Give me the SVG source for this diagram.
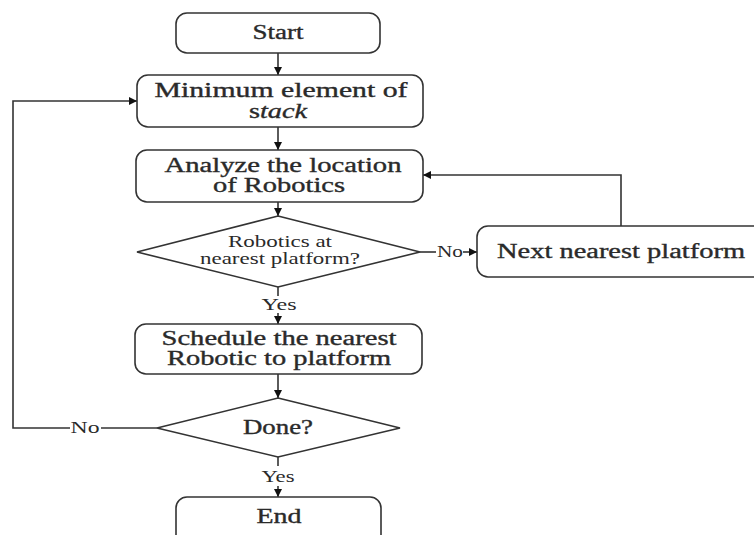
<svg xmlns="http://www.w3.org/2000/svg" width="754" height="535" viewBox="0 0 754 535">
<style>
.box{fill:#fff;stroke:#333;stroke-width:1.6}
.ln{fill:none;stroke:#333;stroke-width:1.6}
.t{font-family:"Liberation Serif","Times New Roman",serif;font-size:20px;fill:#2a2a2a;text-anchor:middle;stroke:#2a2a2a;stroke-width:0.35}
.s{font-family:"Liberation Serif","Times New Roman",serif;font-size:16px;fill:#2a2a2a;text-anchor:middle}
</style>
<defs>
<marker id="ah" viewBox="0 0 10 10" refX="10" refY="5" markerWidth="8" markerHeight="8" markerUnits="userSpaceOnUse" orient="auto">
<path d="M0,0 L10,5 L0,10 Z" fill="#111"/>
</marker>
</defs>
<rect width="754" height="535" fill="#fff"/>
<g id="connectors">
<path class="ln" d="M278,53 V75" marker-end="url(#ah)"/>
<path class="ln" d="M278,127 V150" marker-end="url(#ah)"/>
<path class="ln" d="M278,202 V216" marker-end="url(#ah)"/>
<path class="ln" d="M420,252 H436"/>
<path class="ln" d="M463,252 H477" marker-end="url(#ah)"/>
<path class="ln" d="M621,226 V175 H423" marker-end="url(#ah)"/>
<path class="ln" d="M278,287 V296"/>
<path class="ln" d="M278,313 V324" marker-end="url(#ah)"/>
<path class="ln" d="M278,374 V398" marker-end="url(#ah)"/>
<path class="ln" d="M157,428 H101"/>
<path class="ln" d="M70,428 H13 V101 H137" marker-end="url(#ah)"/>
<path class="ln" d="M278,457 V466"/>
<path class="ln" d="M278,486 V497" marker-end="url(#ah)"/>
<text class="s" x="450" y="257" textLength="26" lengthAdjust="spacingAndGlyphs">No</text>
<text class="s" x="279" y="310" textLength="35" lengthAdjust="spacingAndGlyphs">Yes</text>
<text class="s" x="85" y="433" textLength="29" lengthAdjust="spacingAndGlyphs">No</text>
<text class="s" x="278" y="482" textLength="33" lengthAdjust="spacingAndGlyphs">Yes</text>
</g>
<g id="start">
<rect class="box" x="176" y="13" width="204" height="40" rx="11"/>
<text class="t" x="278" y="39" textLength="51" lengthAdjust="spacingAndGlyphs">Start</text>
</g>
<g id="min">
<rect class="box" x="137" y="75" width="286" height="52" rx="11"/>
<text class="t" x="281" y="97" textLength="253" lengthAdjust="spacingAndGlyphs">Minimum element of</text>
<text class="t" x="278" y="118" textLength="58" lengthAdjust="spacingAndGlyphs">s<tspan font-style="italic">tack</tspan></text>
</g>
<g id="analyze">
<rect class="box" x="136" y="150" width="287" height="52" rx="11"/>
<text class="t" x="283" y="172" textLength="237" lengthAdjust="spacingAndGlyphs">Analyze the location</text>
<text class="t" x="279" y="192" textLength="132" lengthAdjust="spacingAndGlyphs">of Robotics</text>
</g>
<g id="robotics-decision">
<path class="box" d="M278,216 L420,252 L278,287 L137,252 Z"/>
<text class="s" x="280" y="247" textLength="104" lengthAdjust="spacingAndGlyphs">Robotics at</text>
<text class="s" x="280" y="264" textLength="160" lengthAdjust="spacingAndGlyphs">nearest platform?</text>
</g>
<g id="next">
<rect class="box" x="477" y="226" width="290" height="51" rx="11"/>
<text class="t" x="621" y="258" textLength="248" lengthAdjust="spacingAndGlyphs">Next nearest platform</text>
</g>
<g id="schedule">
<rect class="box" x="135" y="324" width="287" height="50" rx="11"/>
<text class="t" x="279" y="345" textLength="235" lengthAdjust="spacingAndGlyphs">Schedule the nearest</text>
<text class="t" x="279" y="365" textLength="224" lengthAdjust="spacingAndGlyphs">Robotic to platform</text>
</g>
<g id="done">
<path class="box" d="M278,398 L400,428 L278,457 L157,428 Z"/>
<text class="t" x="278" y="434" textLength="70" lengthAdjust="spacingAndGlyphs">Done?</text>
</g>
<g id="end">
<rect class="box" x="176" y="497" width="205" height="50" rx="11"/>
<text class="t" x="279" y="523" textLength="45" lengthAdjust="spacingAndGlyphs">End</text>
</g>
</svg>
